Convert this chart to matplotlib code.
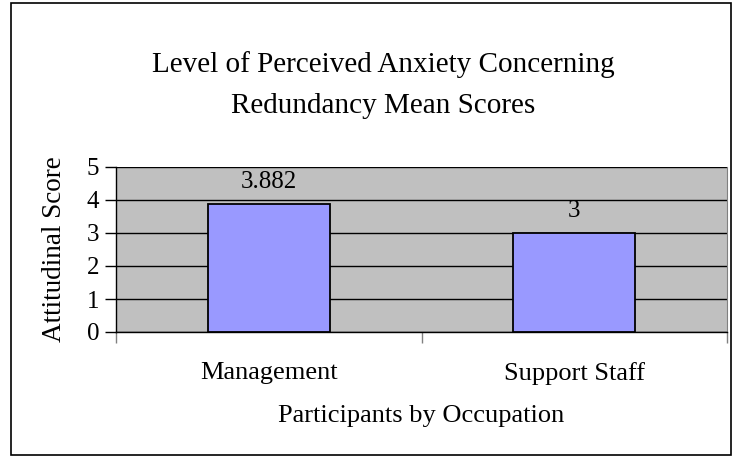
import matplotlib.pyplot as plt
from matplotlib.patches import Rectangle

categories = ["Management", "Support Staff"]
mean_scores = [3.882, 3]
bar_labels = ["3.882", "3"]
y_ticks = [0, 1, 2, 3, 4, 5]

plt.rcParams['font.family'] = ['Liberation Serif', 'DejaVu Serif']

W, H = 734, 459
fig = plt.figure(figsize=(W / 100, H / 100), dpi=100)

# outer chart border
fig.patches.append(Rectangle((11 / W, 1 - 455 / H), 720 / W, 452 / H,
                             transform=fig.transFigure, fill=False,
                             edgecolor='black', linewidth=1.2))

ax = fig.add_axes([116 / W, 1 - 332 / H, (727 - 116) / W, (332 - 167) / H])
ax.set_facecolor('#c0c0c0')
x = range(len(categories))
ax.bar(x, mean_scores, width=0.4, color='#9999ff', edgecolor='black',
       linewidth=1.3, zorder=3)
ax.set_xlim(-0.5, 1.5)
ax.set_ylim(0, 5)
ax.set_yticks(y_ticks)
ax.yaxis.grid(True, color='black', linewidth=1)
ax.set_axisbelow(True)

ax.set_xticks([-0.5, 0.5, 1.5])
ax.set_xticklabels([])
ax.tick_params(axis='x', direction='out', length=8, width=1, color='#808080')
ax.tick_params(axis='y', direction='out', length=8, width=1, labelsize=18, pad=4)
for i, c in enumerate(categories):
    ax.text(i, -1.25, c, ha='center', va='center', fontsize=19)

ax.spines['top'].set_visible(False)
ax.spines['right'].set_color('#808080')
ax.spines['left'].set_linewidth(1)
ax.spines['bottom'].set_linewidth(1)

for i, (v, lab) in enumerate(zip(mean_scores, bar_labels)):
    ax.annotate(lab, (i, v), xytext=(0, 8), textcoords='offset points',
                ha='center', va='bottom', fontsize=18)

ax.set_ylabel("Attitudinal Score", fontsize=19.5, labelpad=14)
fig.text(421 / W, 1 - 416 / H, "Participants by Occupation", ha='center',
         va='center', fontsize=19)
fig.text(383 / W, 1 - 85 / H,
         "Level of Perceived Anxiety Concerning\nRedundancy Mean Scores",
         ha='center', va='center', fontsize=21, linespacing=1.75)

fig.savefig("out.png", dpi=100)
